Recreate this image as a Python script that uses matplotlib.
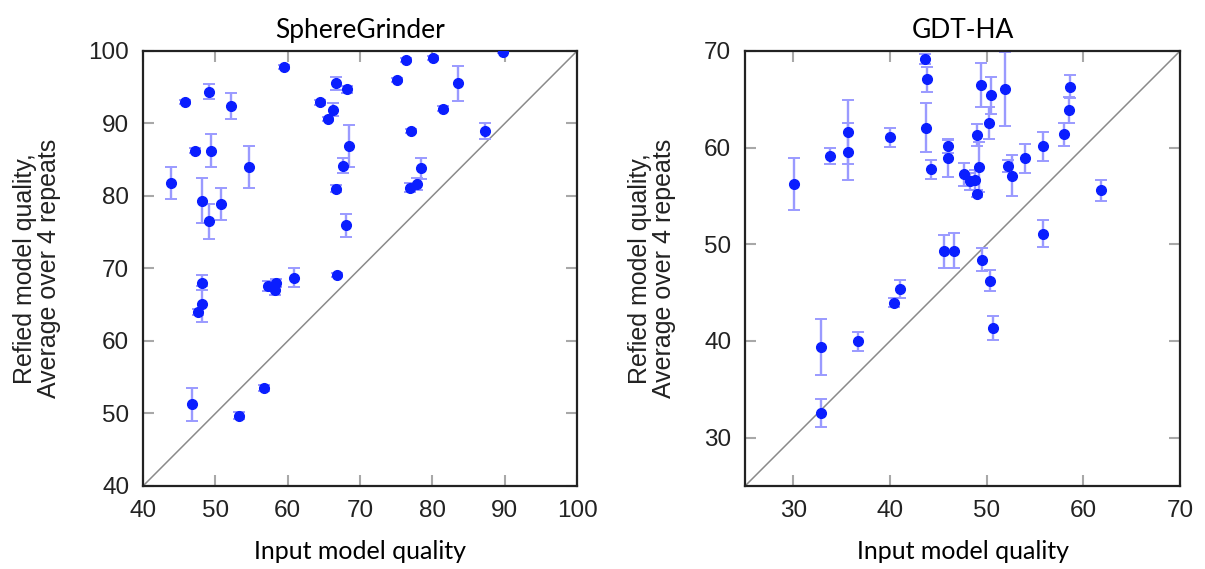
import matplotlib
matplotlib.use("Agg")
import matplotlib.pyplot as plt
import numpy as np

plt.rcParams['font.family'] = ['Liberation Sans', 'DejaVu Sans']

# SphereGrinder: input quality, refined mean, error
sg_x = [43.9, 45.8, 47.2, 49.1, 49.4, 52.2, 54.6, 59.45, 48.1, 50.8,
        49.1, 46.8, 48.1, 48.1, 47.55, 53.3, 56.75, 57.3, 58.2, 58.35,
        60.8, 64.4, 65.5, 66.2, 66.7, 68.2, 68.5, 67.7, 66.7, 68.0,
        66.8, 75.1, 76.4, 80.1, 77.1, 76.95, 77.85, 78.4, 81.45, 83.6,
        87.25, 89.7]
sg_y = [81.85, 92.95, 86.25, 94.4, 86.25, 92.35, 83.95, 97.75, 79.35, 78.95,
        76.5, 51.25, 68.05, 65.1, 64.0, 49.7, 53.5, 67.55, 67.0, 68.0,
        68.7, 92.9, 90.65, 91.9, 95.55, 94.7, 86.9, 84.2, 81.0, 75.95,
        69.1, 96.0, 98.8, 99.05, 88.95, 81.15, 81.65, 83.8, 92.05, 95.55,
        88.9, 99.9]
sg_err = [2.2, 0.3, 0.3, 1.0, 2.25, 1.8, 2.9, 0.3, 3.1, 2.2,
          2.45, 2.3, 1.0, 2.5, 0.4, 0.5, 0.4, 0.7, 0.6, 0.6,
          1.3, 0.3, 0.3, 0.9, 0.9, 0.5, 2.9, 1.0, 0.5, 1.55,
          0.3, 0.3, 0.3, 0.3, 0.3, 0.6, 0.8, 1.5, 0.3, 2.4,
          1.1, 0.2]

# GDT-HA
gdt_x = [30.1, 32.9, 32.9, 33.8, 35.7, 35.7, 36.7, 40.0, 40.45, 41.06,
         43.6, 43.83, 43.7, 44.2, 45.95, 45.95, 45.6, 46.65, 47.6, 48.3,
         48.75, 49.0, 48.95, 49.25, 49.45, 50.4, 50.25, 51.85, 52.2, 52.6,
         54.0, 55.8, 58.0, 58.55, 58.65, 61.85, 55.8, 49.5, 50.35, 50.65]
gdt_y = [56.25, 32.55, 39.4, 59.15, 61.6, 59.6, 39.97, 61.07, 43.98, 45.37,
         69.18, 67.08, 62.05, 57.75, 60.15, 58.9, 49.3, 49.35, 57.25, 56.5,
         56.65, 55.25, 61.3, 58.0, 66.5, 65.4, 62.55, 66.05, 58.1, 57.1,
         58.9, 60.15, 61.4, 63.9, 66.3, 55.57, 51.1, 48.4, 46.25, 41.35]
gdt_err = [2.7, 1.45, 2.9, 0.8, 3.3, 2.9, 1.0, 1.0, 0.5, 0.9,
           0.5, 1.3, 2.55, 0.95, 0.7, 1.9, 1.7, 1.8, 1.2, 0.9,
           1.0, 0.4, 1.1, 2.6, 2.3, 1.9, 1.7, 3.8, 0.6, 2.1,
           1.5, 1.5, 1.2, 1.3, 1.2, 1.1, 1.4, 1.2, 1.1, 1.2]

panels = [
    ("SphereGrinder", sg_x, sg_y, sg_err, (40, 100), [40, 50, 60, 70, 80, 90, 100]),
    ("GDT-HA", gdt_x, gdt_y, gdt_err, (25, 70), [30, 40, 50, 60, 70]),
]

fig = plt.figure(figsize=(12.05, 5.69), dpi=100)
positions = [[0.1187, 0.1459, 0.3602, 0.7645], [0.6183, 0.1459, 0.3610, 0.7645]]

for pos, (title, x, y, err, lim, ticks) in zip(positions, panels):
    ax = fig.add_axes(pos)
    ax.plot(lim, lim, color="#8a8a8a", lw=1.1, zorder=1)
    ax.errorbar(x, y, yerr=err, fmt="none", ecolor="#9a9aff", elinewidth=1.7,
                capsize=4.5, capthick=1.4, zorder=2)
    ax.plot(x, y, "o", color="#0a1eff", ms=7, zorder=3)
    ax.set_xlim(lim)
    ax.set_ylim(lim)
    ax.set_xticks(ticks)
    ax.set_yticks(ticks)
    ax.tick_params(direction="in", top=True, right=True, length=8, width=1.5,
                   color="#a8a8a8", labelcolor="#222222", labelsize=17.5, pad=10)
    for s in ax.spines.values():
        s.set_linewidth(1.6)
        s.set_color("#222222")
    ax.set_title(title, fontsize=19, family="Lato", pad=9)
    ax.set_xlabel("Input model quality", fontsize=18, family="Lato", labelpad=13)
    ax.set_ylabel("Refied model quality,\nAverage over 4 repeats", fontsize=18,
                  labelpad=20, linespacing=1.0, color="#222222")

fig.savefig("out.png", dpi=100)
